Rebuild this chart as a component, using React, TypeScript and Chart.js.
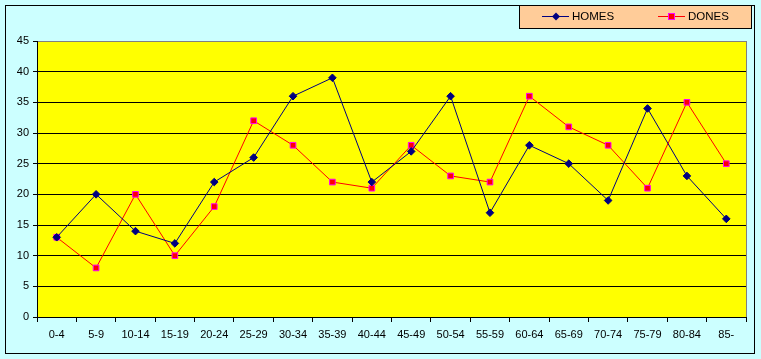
import React, { useEffect, useRef } from "react";
import { Chart, registerables } from "chart.js";

Chart.register(...registerables);

const categories = ["0-4", "5-9", "10-14", "15-19", "20-24", "25-29", "30-34", "35-39", "40-44", "45-49", "50-54", "55-59", "60-64", "65-69", "70-74", "75-79", "80-84", "85-"];
const homes = [13, 20, 14, 12, 22, 26, 36, 39, 22, 27, 36, 17, 28, 25, 19, 34, 23, 16];
const dones = [13, 8, 20, 10, 18, 32, 28, 22, 21, 28, 23, 22, 36, 31, 28, 21, 35, 25];
const yMin = 0;
const yMax = 45;
const yStep = 5;

const FONT = "'Liberation Sans', Arial, sans-serif";

const framePlugin = {
  id: "frame",
  beforeDraw(chart: any) {
    const { ctx, width, height, chartArea } = chart;
    ctx.save();
    ctx.fillStyle = "#CCFFFF";
    ctx.fillRect(0, 0, width, height);
    ctx.fillStyle = "#FFFF00";
    ctx.fillRect(chartArea.left, chartArea.top, chartArea.right - chartArea.left, chartArea.bottom - chartArea.top);
    ctx.strokeStyle = "#000000";
    ctx.lineWidth = 1;
    ctx.strokeRect(5.5, 5.5, 749, 348);
    ctx.restore();
  },
  afterDatasetsDraw(chart: any) {
    const { ctx, chartArea } = chart;
    ctx.save();
    ctx.strokeStyle = "#808080";
    ctx.lineWidth = 1;
    ctx.beginPath();
    ctx.moveTo(Math.round(chartArea.right) + 0.5, chartArea.top);
    ctx.lineTo(Math.round(chartArea.right) + 0.5, chartArea.bottom);
    ctx.stroke();
    ctx.restore();
  },
  afterDraw(chart: any) {
    const { ctx } = chart;
    ctx.save();
    ctx.fillStyle = "#FFCC99";
    ctx.fillRect(519.5, 5.5, 232, 23);
    ctx.strokeStyle = "#000000";
    ctx.lineWidth = 1;
    ctx.strokeRect(519.5, 5.5, 232, 23);
    const cy = 16.5;
    ctx.strokeStyle = "#000080";
    ctx.beginPath();
    ctx.moveTo(542, cy);
    ctx.lineTo(569, cy);
    ctx.stroke();
    ctx.fillStyle = "#000080";
    ctx.beginPath();
    ctx.moveTo(556, cy - 4);
    ctx.lineTo(560, cy);
    ctx.lineTo(556, cy + 4);
    ctx.lineTo(552, cy);
    ctx.closePath();
    ctx.fill();
    ctx.strokeStyle = "#FF0000";
    ctx.beginPath();
    ctx.moveTo(658, cy);
    ctx.lineTo(685, cy);
    ctx.stroke();
    ctx.fillStyle = "#FF0000";
    ctx.fillRect(668.5, cy - 3, 6, 6);
    ctx.strokeStyle = "#FF00FF";
    ctx.strokeRect(668.5, cy - 3, 6, 6);
    ctx.fillStyle = "#000000";
    ctx.font = `11.5px ${FONT}`;
    ctx.textBaseline = "middle";
    ctx.textAlign = "left";
    ctx.fillText("HOMES", 572, cy);
    ctx.fillText("DONES", 688, cy);
    ctx.restore();
  },
};

export default function App() {
  const ref = useRef<HTMLCanvasElement>(null);
  useEffect(() => {
    if (!ref.current) return;
    const chart = new Chart(ref.current, {
      type: "line",
      data: {
        labels: categories,
        datasets: [
          {
            label: "HOMES",
            data: homes,
            borderColor: "#000080",
            backgroundColor: "#000080",
            borderWidth: 1,
            pointStyle: "rectRot",
            pointRadius: 3.8,
            pointBackgroundColor: "#000080",
            pointBorderColor: "#000080",
            pointBorderWidth: 1,
            tension: 0,
          },
          {
            label: "DONES",
            data: dones,
            borderColor: "#FF0000",
            backgroundColor: "#FF0000",
            borderWidth: 1,
            pointStyle: "rect",
            pointRadius: 4,
            pointBackgroundColor: "#FF0000",
            pointBorderColor: "#FF00FF",
            pointBorderWidth: 1,
            tension: 0,
          },
        ],
      },
      options: {
        animation: false,
        responsive: false,
        maintainAspectRatio: false,
        layout: { padding: { left: 0, top: 41, right: 15, bottom: 0 } },
        plugins: {
          legend: { display: false },
          tooltip: { enabled: false },
        },
        scales: {
          x: {
            offset: true,
            afterFit(scale: any) {
              scale.height = 42;
            },
            grid: {
              offset: true,
              drawOnChartArea: false,
              tickLength: 5,
              color: "#000000",
              tickColor: "#000000",
            },
            border: { color: "#000000", width: 1 },
            ticks: {
              color: "#000000",
              font: { family: FONT, size: 11 },
              padding: 6,
              maxRotation: 0,
              autoSkip: false,
            },
          },
          y: {
            min: yMin,
            max: yMax,
            afterFit(scale: any) {
              scale.width = 37;
            },
            grid: {
              color: (c: any) => (c.tick && c.tick.value === yMax ? "#808080" : "#000000"),
              tickColor: "#000000",
              tickLength: 4,
            },
            border: { color: "#000000", width: 1 },
            ticks: {
              stepSize: yStep,
              color: "#000000",
              font: { family: FONT, size: 11 },
              padding: 4,
            },
          },
        },
      },
      plugins: [framePlugin],
    });
    return () => chart.destroy();
  }, []);
  return (
    <div style={{ position: "absolute", left: 0, top: 0, width: 761, height: 359 }}>
      <canvas ref={ref} width={761} height={359} style={{ display: "block", width: 761, height: 359 }} />
    </div>
  );
}
